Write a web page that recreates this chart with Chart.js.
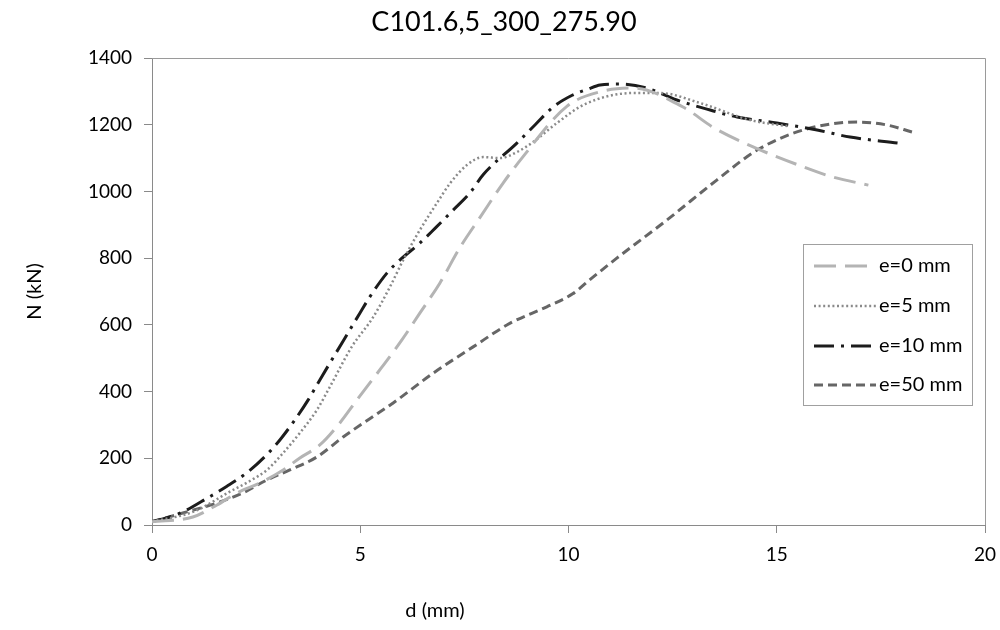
<!DOCTYPE html>
<html><head><meta charset="utf-8">
<script src="https://cdn.jsdelivr.net/npm/chart.js@4/dist/chart.umd.min.js"></script>
<style>html,body{margin:0;padding:0;background:#fff}#wrap{width:1000px;height:630px;position:relative}</style>
</head><body><div id="wrap"><canvas id="c" width="1000" height="630"></canvas></div>
<script>
const chartTitle = "C101.6,5_300_275.90";
const xTitle = "d (mm)";
const yTitle = "N (kN)";
const seriesNames = ["e=0 mm", "e=5 mm", "e=10 mm", "e=50 mm"];

const d_e0 = [0, 0.98, 1.56, 2.04, 2.59, 3.15, 3.55, 4.03, 4.51, 4.92, 5.5, 6.0, 6.43, 6.91, 7.4, 7.88, 8.43, 8.9, 9.96, 10.8, 11.55, 12.75, 13.5, 14.5, 15.5, 16.35, 17.2];
const n_e0 = [10, 24, 60, 96, 126, 165, 201, 240, 306, 375, 470, 555, 635, 725, 833, 923, 1025, 1103, 1255, 1300, 1310, 1253, 1190, 1130, 1080, 1043, 1019];

const d_e5 = [0, 1, 1.87, 2.35, 2.76, 3.15, 3.55, 3.96, 4.27, 4.8, 5.31, 5.71, 6.03, 6.43, 6.84, 7.16, 7.56, 7.95, 8.36, 8.76, 9.15, 9.72, 10.4, 11.55, 12.2, 13.16, 14.36, 15.3];
const n_e5 = [10, 40, 100, 132, 165, 216, 276, 345, 414, 535, 623, 713, 794, 884, 965, 1025, 1079, 1103, 1100, 1118, 1148, 1205, 1262, 1295, 1295, 1265, 1214, 1195];

const d_e10 = [0, 0.5, 0.79, 1.32, 1.8, 2.28, 2.71, 3.07, 3.43, 3.75, 4.03, 4.63, 4.99, 5.23, 5.64, 5.95, 6.43, 6.8, 7.23, 7.63, 7.95, 8.76, 9.2, 9.63, 10.1, 10.47, 10.76, 11.24, 11.88, 12.6, 13.4, 14.05, 15.0, 15.97, 16.76, 17.9];
const n_e10 = [10, 27, 42, 80, 116, 157, 205, 255, 315, 375, 435, 560, 635, 684, 755, 794, 845, 890, 944, 995, 1050, 1145, 1200, 1253, 1289, 1307, 1319, 1322, 1310, 1274, 1244, 1223, 1205, 1184, 1163, 1145];

const d_e50 = [0, 0.74, 1.56, 2.18, 2.76, 3.31, 3.96, 4.59, 4.83, 5.79, 6.75, 7.71, 8.6, 9.48, 10.1, 10.5, 11.16, 12.36, 13.56, 14.53, 15.63, 16.93, 17.65, 18.25];
const n_e50 = [10, 36, 66, 96, 135, 165, 204, 264, 285, 366, 455, 534, 605, 654, 693, 734, 800, 914, 1034, 1124, 1184, 1208, 1199, 1178];

const xTicks = [0, 5, 10, 15, 20];
const yTicks = [0, 200, 400, 600, 800, 1000, 1200, 1400];

const FONT = "Lato, 'Open Sans', sans-serif";
function pts(xs, ys){ return xs.map((x,i)=>({x:x, y:ys[i]})); }

const styles = [
  {color:'#b4b4b4', dash:[22,9], width:3, cap:'butt'},
  {color:'#8a8a8a', dash:[2,2.6], width:2.5, cap:'butt'},
  {color:'#1c1c1c', dash:[20,7,3,7], width:3, cap:'butt'},
  {color:'#666666', dash:[9,5], width:3, cap:'butt'}
];
const allX = [d_e0, d_e5, d_e10, d_e50];
const allY = [n_e0, n_e5, n_e10, n_e50];

const datasets = seriesNames.map((name,i)=>({
  label: name,
  data: pts(allX[i], allY[i]),
  borderColor: styles[i].color,
  borderDash: styles[i].dash,
  borderWidth: styles[i].width,
  borderCapStyle: styles[i].cap,
  pointRadius: 0,
  fill: false,
  cubicInterpolationMode: 'monotone'
}));

const decor = {
  id: 'decor',
  afterDraw(chart){
    const ctx = chart.ctx, a = chart.chartArea;
    ctx.save();
    ctx.strokeStyle = '#9a9a9a'; ctx.lineWidth = 1; ctx.setLineDash([]);
    ctx.beginPath();
    ctx.moveTo(a.left, a.top + 0.5); ctx.lineTo(a.right + 0.5, a.top + 0.5); ctx.lineTo(a.right + 0.5, a.bottom);
    ctx.stroke();
    const bx = 803, by = 244, bw = 169, bh = 161;
    ctx.fillStyle = '#fff'; ctx.fillRect(bx, by, bw, bh);
    ctx.strokeStyle = '#a0a0a0'; ctx.strokeRect(bx + 0.5, by + 0.5, bw, bh);
    const rows = [266, 306, 346, 385];
    chart.data.datasets.forEach((ds, i)=>{
      ctx.strokeStyle = ds.borderColor; ctx.lineWidth = ds.borderWidth;
      ctx.setLineDash(ds.borderDash); ctx.lineCap = ds.borderCapStyle;
      ctx.beginPath(); ctx.moveTo(814, rows[i]); ctx.lineTo(876, rows[i]); ctx.stroke();
      ctx.setLineDash([]);
      ctx.fillStyle = '#000'; ctx.font = "20px " + FONT; ctx.textBaseline = 'middle'; ctx.textAlign = 'left';
      ctx.fillText(ds.label, 879, rows[i]);
    });
    ctx.fillStyle = '#000'; ctx.font = "20px " + FONT; ctx.textAlign = 'center'; ctx.textBaseline = 'middle';
    ctx.fillText(xTitle, 435, 611);
    ctx.restore();
  }
};

new Chart(document.getElementById('c'), {
  type: 'line',
  data: { datasets },
  plugins: [decor],
  options: {
    responsive: false,
    animation: false,
    layout: { padding: { left: 23, right: 15, top: 0, bottom: 0 } },
    plugins: {
      legend: { display: false },
      tooltip: { enabled: false },
      title: { display: true, text: chartTitle, color: '#000', font: { family: FONT, size: 27, weight: 'normal' }, padding: { top: 5.8, bottom: 19.8 } }
    },
    scales: {
      x: {
        type: 'linear', min: 0, max: 20,
        afterBuildTicks(s){ s.ticks = xTicks.map(v=>({value:v})); },
        afterFit(s){ s.height = 105; s.paddingRight = 0; s.paddingLeft = 0; },
        grid: { drawOnChartArea: false, drawTicks: true, tickLength: 8, color: '#8a8a8a' },
        border: { color: '#8a8a8a', width: 1 },
        ticks: { color: '#000', font: { family: FONT, size: 19 }, padding: 10, maxRotation: 0, callback: v => String(v) }
      },
      y: {
        type: 'linear', min: 0, max: 1400,
        afterBuildTicks(s){ s.ticks = yTicks.map(v=>({value:v})); },
        afterFit(s){ s.width = 129; },
        grid: { drawOnChartArea: false, drawTicks: true, tickLength: 8, color: '#8a8a8a' },
        border: { color: '#8a8a8a', width: 1 },
        ticks: { color: '#000', font: { family: FONT, size: 19 }, padding: 12, callback: v => String(v) },
        title: { display: true, text: yTitle, color: '#000', font: { family: FONT, size: 20 }, padding: { top: 0, bottom: 0 } }
      }
    }
  }
});
</script></body></html>
